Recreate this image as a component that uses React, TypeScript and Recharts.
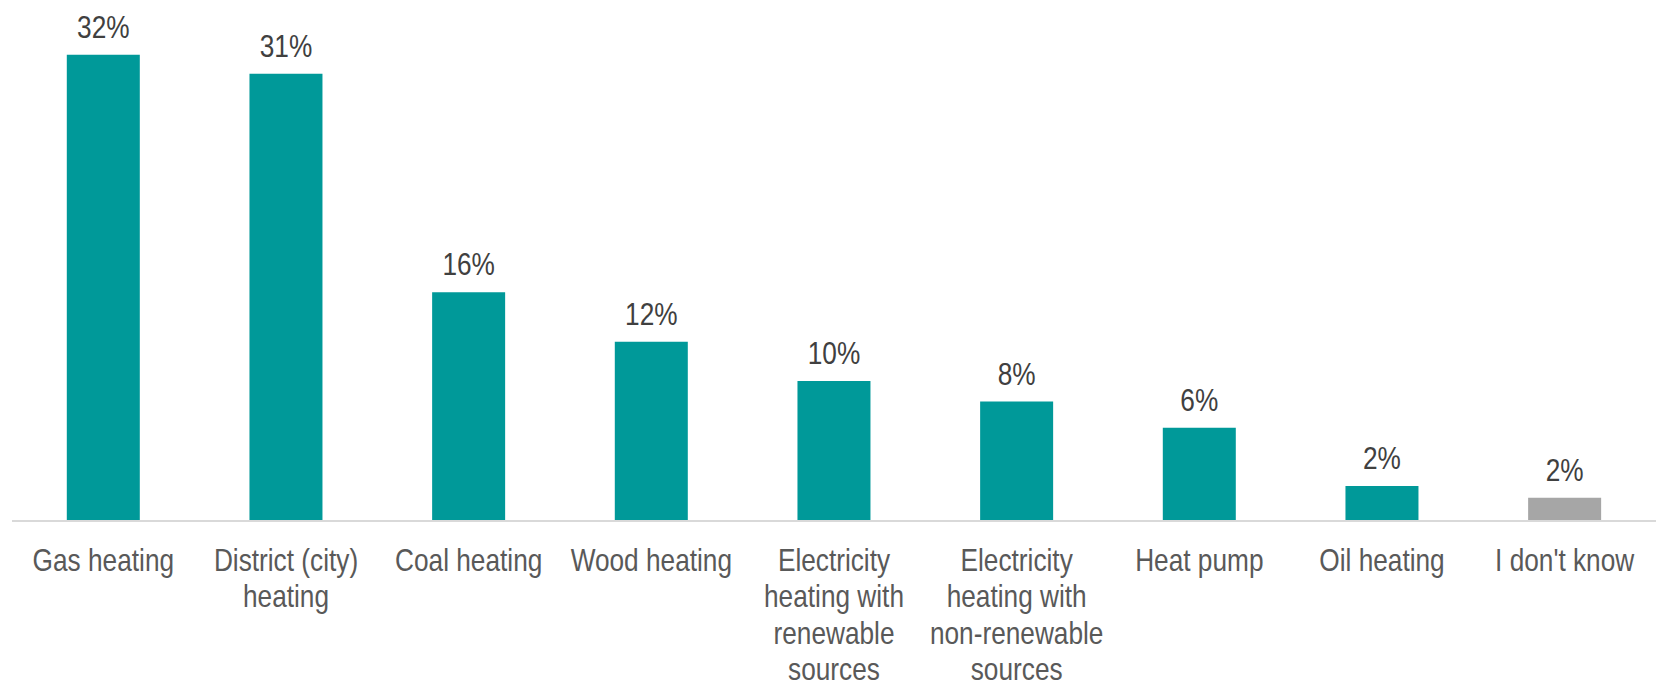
import { BarChart, Bar, XAxis, YAxis, LabelList, Cell } from "recharts";

const categories = [
  "Gas heating",
  "District (city)\nheating",
  "Coal heating",
  "Wood heating",
  "Electricity\nheating with\nrenewable\nsources",
  "Electricity\nheating with\nnon-renewable\nsources",
  "Heat pump",
  "Oil heating",
  "I don't know",
];
const shares = [32.0, 30.7, 15.7, 12.3, 9.6, 8.2, 6.4, 2.4, 1.6];
const barColors = [
  "#009999",
  "#009999",
  "#009999",
  "#009999",
  "#009999",
  "#009999",
  "#009999",
  "#009999",
  "#a6a6a6",
];

// no Arial Narrow here, so squeeze Liberation Sans horizontally
const FONT = "'Liberation Sans', Arial, sans-serif";
const NARROW = 0.82;

const data = categories.map((name, i) => ({ name, value: shares[i] }));

function CategoryTick(props: any) {
  const { x, y, payload } = props;
  const lines = String(payload.value).split("\n");
  return (
    <g transform={`translate(${x},${y}) scale(${NARROW},1)`}>
      <text x={0} y={0} textAnchor="middle" fill="#595959" fontSize={32} fontFamily={FONT}>
        {lines.map((line, i) => (
          <tspan key={i} x={0} dy={i === 0 ? 42 : 36.5}>
            {line}
          </tspan>
        ))}
      </text>
    </g>
  );
}

function ValueLabel(props: any) {
  const { x, y, width, value } = props;
  const cx = Number(x) + Number(width) / 2;
  return (
    <g transform={`translate(${cx},${Number(y) - 17}) scale(${NARROW},1)`}>
      <text x={0} y={0} textAnchor="middle" fill="#404040" fontSize={32} fontFamily={FONT}>
        {`${Math.round(Number(value))}%`}
      </text>
    </g>
  );
}

export default function App() {
  return (
    <div style={{ position: "absolute", left: 0, top: 0, width: 1656, height: 687, background: "#fff" }}>
      <BarChart
        width={1656}
        height={687}
        data={data}
        margin={{ top: 11, right: 0, bottom: 136, left: 12 }}
        barCategoryGap="30%"
      >
        <XAxis
          dataKey="name"
          interval={0}
          tickLine={false}
          axisLine={{ stroke: "#d9d9d9", strokeWidth: 2 }}
          tick={<CategoryTick />}
        />
        <YAxis hide domain={[0, 35]} />
        <Bar dataKey="value" isAnimationActive={false}>
          {data.map((d, i) => (
            <Cell key={d.name} fill={barColors[i]} />
          ))}
          <LabelList dataKey="value" content={<ValueLabel />} />
        </Bar>
      </BarChart>
    </div>
  );
}
